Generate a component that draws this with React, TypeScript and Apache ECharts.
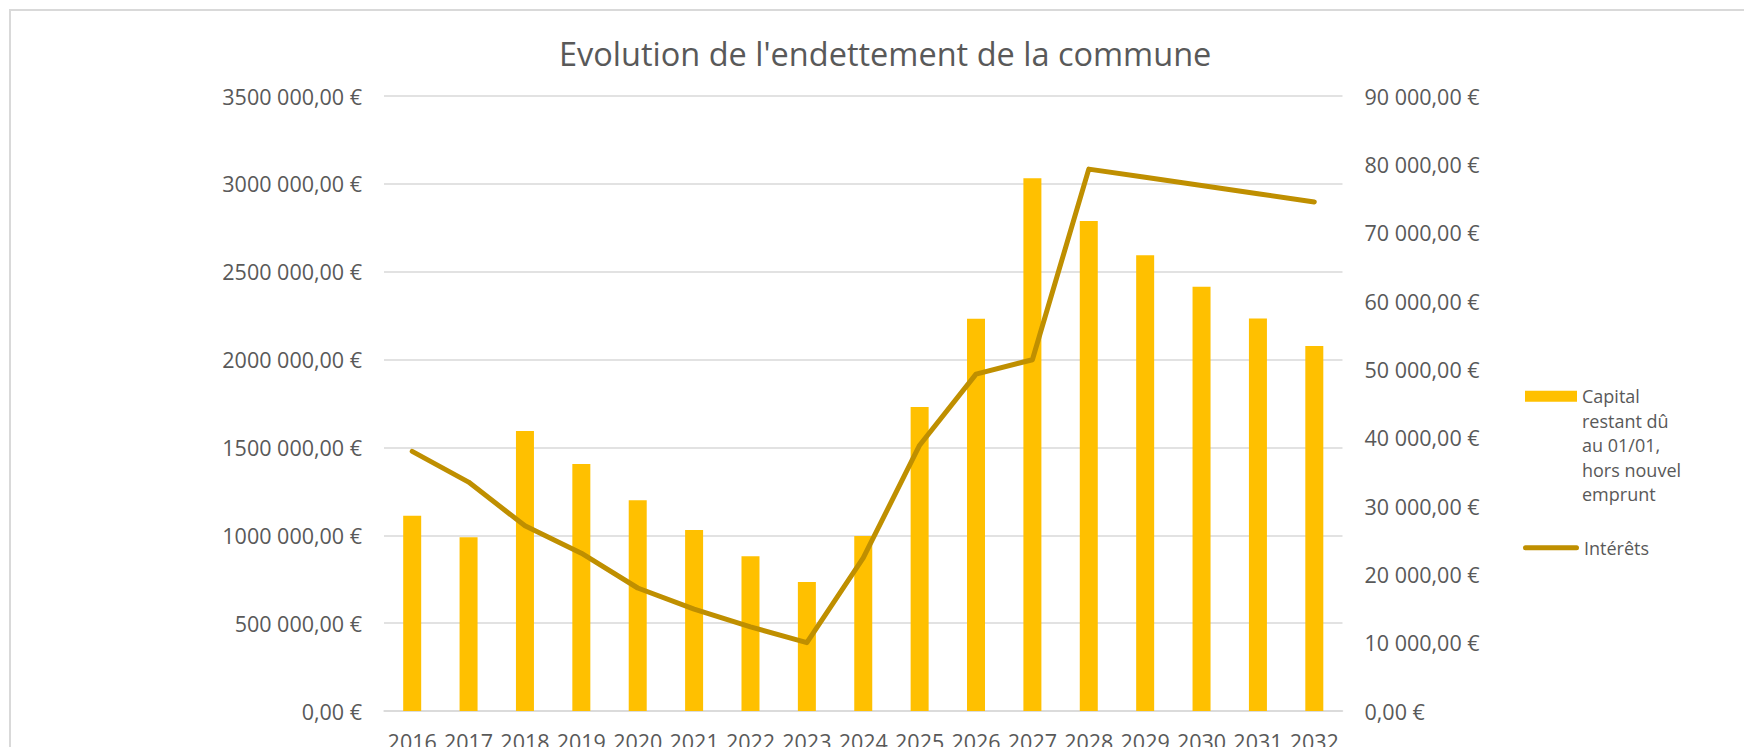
import React, { useEffect, useRef } from "react";
import * as echarts from "echarts";

const years = ["2016", "2017", "2018", "2019", "2020", "2021", "2022", "2023", "2024", "2025", "2026", "2027", "2028", "2029", "2030", "2031", "2032"];
const capital = [1111000, 989000, 1593000, 1405000, 1199000, 1030000, 880000, 734000, 996000, 1730000, 2232000, 3032000, 2788000, 2594000, 2414000, 2234000, 2077000];
const interets = [38000, 33500, 27100, 23100, 18000, 14900, 12300, 10000, 22400, 38900, 49300, 51400, 79300, 78100, 76900, 75700, 74500];

const capitalName = "Capital\nrestant dû\nau 01/01,\nhors nouvel\nemprunt";
const interetsName = "Intérêts";
const titleText = "Evolution de l'endettement de la commune";

const FONT = "'Open Sans', 'Noto Sans', sans-serif";
const TXT = "#595959";
const GRID = "#d9d9d9";

function fmtEuro(v: number): string {
  const t = Math.floor(v / 1000);
  const r = Math.round(v % 1000);
  const s = t > 0 ? t + " " + String(r).padStart(3, "0") : String(r);
  return s + ",00 €";
}

export default function App() {
  const ref = useRef<HTMLDivElement>(null);
  useEffect(() => {
    if (!ref.current) return;
    const chart = echarts.init(ref.current, null, { renderer: "svg" });
    const legendText = { fontFamily: FONT, fontSize: 18, color: TXT, lineHeight: 24.5 };
    chart.setOption({
      animation: false,
      backgroundColor: "#ffffff",
      textStyle: { fontFamily: FONT },
      title: {
        text: titleText,
        left: 559,
        top: 37,
        padding: 0,
        textStyle: { fontFamily: FONT, fontSize: 32.5, fontWeight: "normal", color: TXT },
      },
      graphic: [
        {
          type: "polyline",
          shape: { points: [[10, 747], [10, 10], [1744, 10]] },
          style: { stroke: GRID, lineWidth: 2, fill: "none" },
          silent: true,
        },
      ],
      legend: [
        {
          orient: "vertical",
          left: 1525,
          top: 286,
          padding: 0,
          itemWidth: 52,
          itemHeight: 11,
          textStyle: legendText,
          formatter: (name: string) => "\n\n\n\n" + name,
          data: [{ name: capitalName, icon: "rect" }],
        },
        {
          orient: "vertical",
          left: 1523,
          top: 535.5,
          padding: 0,
          itemWidth: 56,
          itemHeight: 5,
          textStyle: legendText,
          data: [
            {
              name: interetsName,
              icon: "path://M2.5,0 L53.5,0 A2.5,2.5 0 0 1 53.5,5 L2.5,5 A2.5,2.5 0 0 1 2.5,0 Z",
              itemStyle: { color: "#BF8F00" },
            },
          ],
        },
      ],
      grid: { left: 384, right: 401.5, top: 96, bottom: 36, containLabel: false, outerBoundsMode: "none" },
      xAxis: {
        type: "category",
        data: years,
        axisTick: { show: false },
        axisLine: { lineStyle: { color: GRID, width: 1.5 } },
        axisLabel: { color: TXT, fontSize: 21.5, fontFamily: FONT, margin: 19, interval: 0 },
      },
      yAxis: [
        {
          type: "value",
          min: 0,
          max: 3500000,
          interval: 500000,
          axisLine: { show: false },
          axisTick: { show: false },
          splitLine: { lineStyle: { color: GRID, width: 1.5 } },
          axisLabel: { color: TXT, fontSize: 21.5, fontFamily: FONT, margin: 22, formatter: (v: number) => fmtEuro(v) },
        },
        {
          type: "value",
          min: 0,
          max: 90000,
          interval: 10000,
          axisLine: { show: false },
          axisTick: { show: false },
          splitLine: { show: false },
          axisLabel: { color: TXT, fontSize: 21.5, fontFamily: FONT, margin: 22, formatter: (v: number) => fmtEuro(v) },
        },
      ],
      series: [
        {
          name: capitalName,
          type: "bar",
          data: capital,
          yAxisIndex: 0,
          barWidth: 18,
          itemStyle: { color: "#FFC000" },
        },
        {
          name: interetsName,
          type: "line",
          data: interets,
          yAxisIndex: 1,
          symbol: "none",
          showSymbol: false,
          lineStyle: { color: "#BF8F00", width: 5, cap: "round", join: "round" },
          itemStyle: { color: "#BF8F00" },
        },
      ],
    });
    return () => chart.dispose();
  }, []);
  return (
    <div
      ref={ref}
      style={{ position: "fixed", left: 0, top: 0, width: 1744, height: 747, background: "#fff" }}
    />
  );
}
